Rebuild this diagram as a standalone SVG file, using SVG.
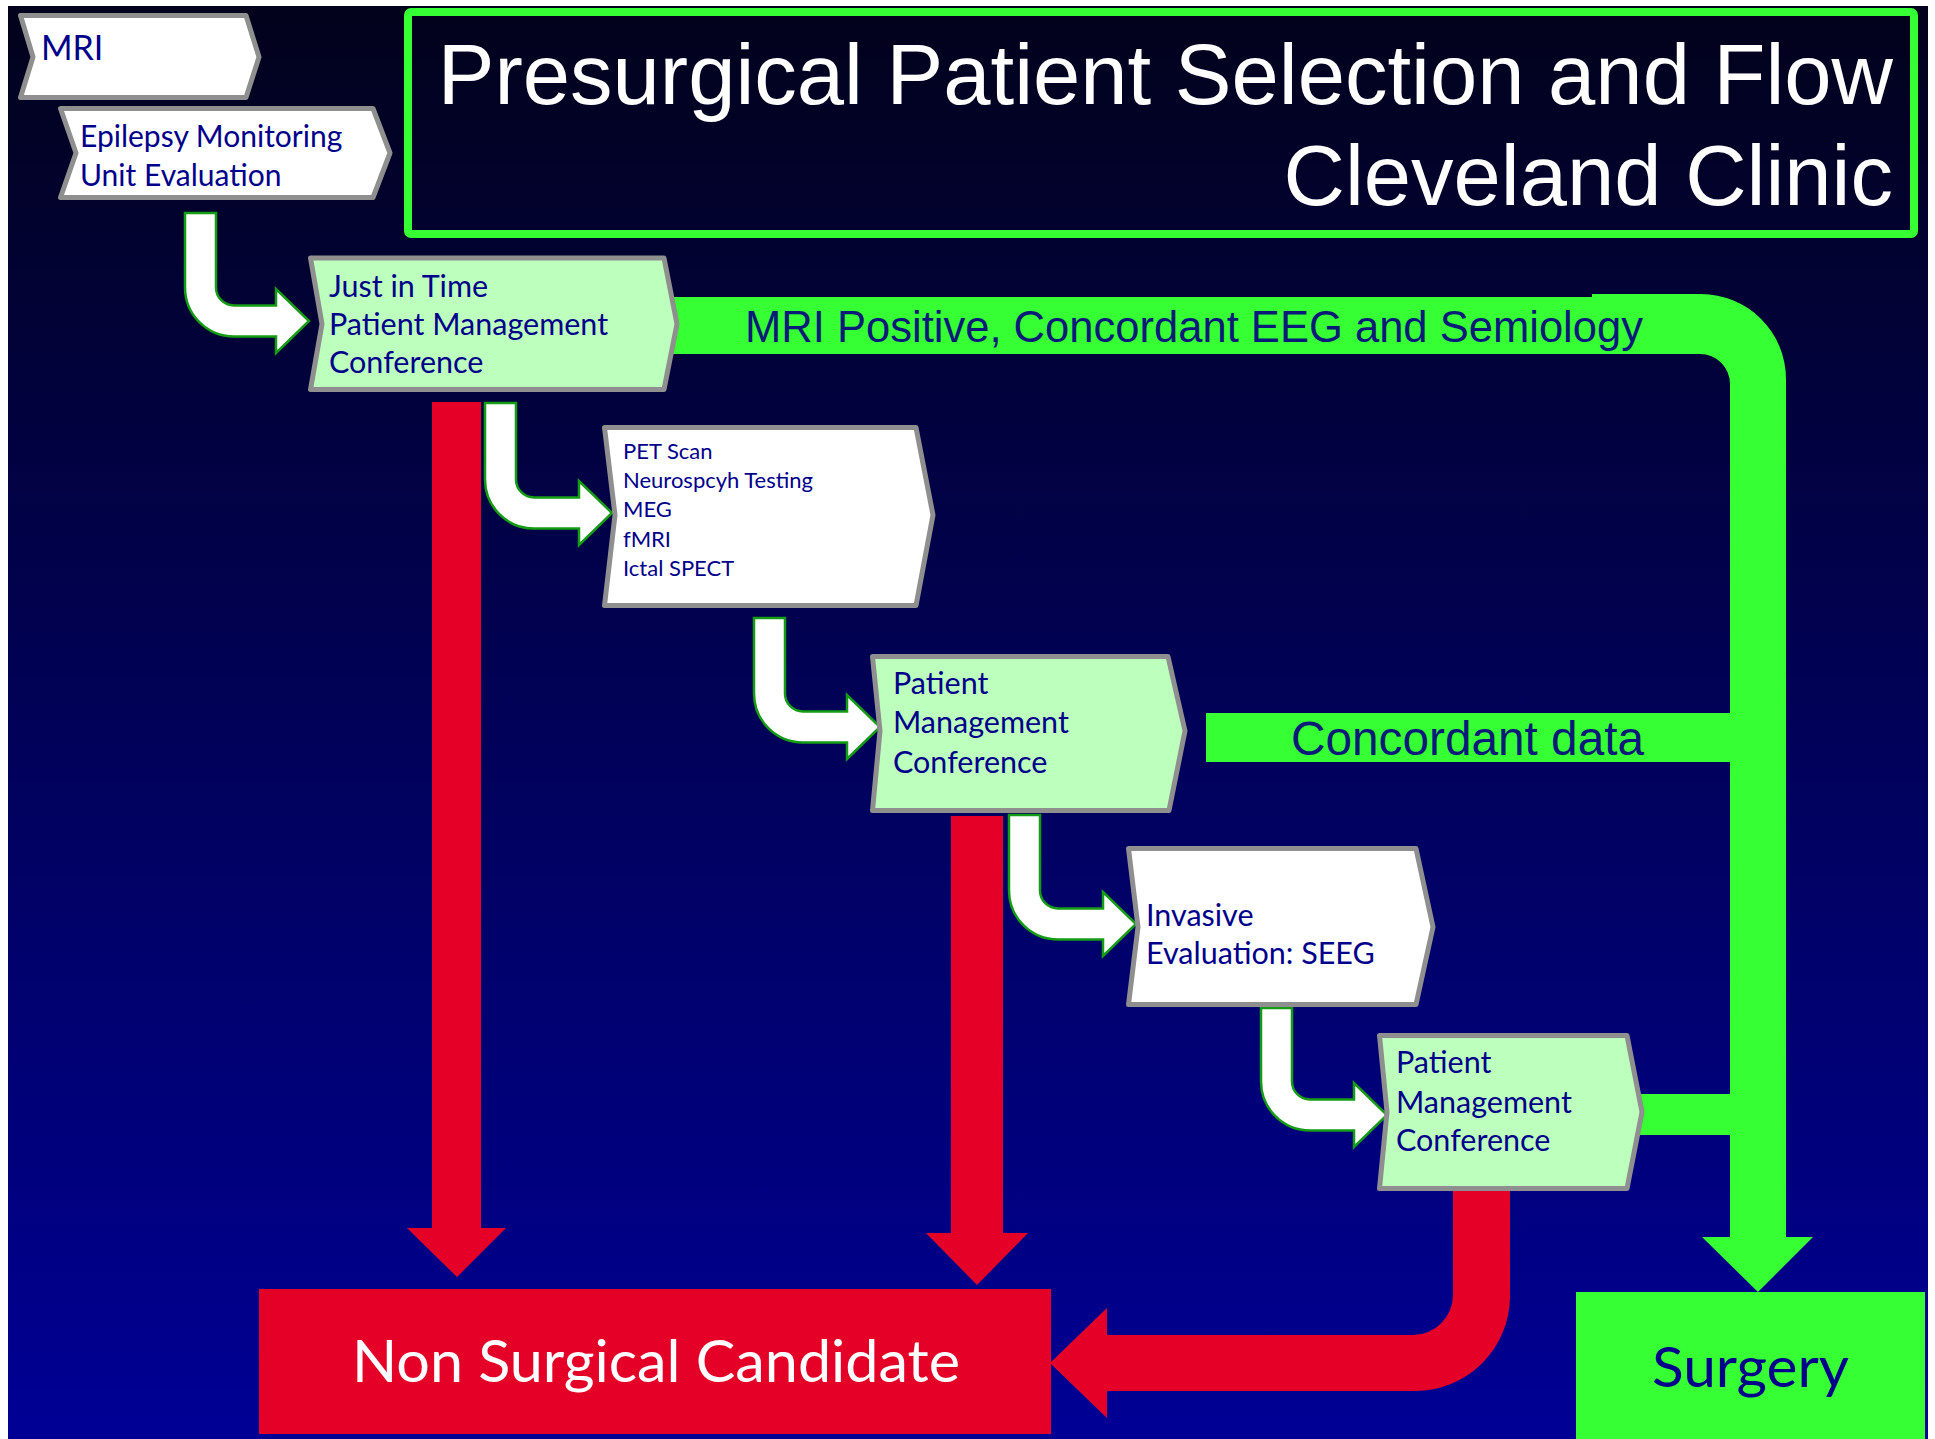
<svg xmlns="http://www.w3.org/2000/svg" width="1935" height="1439" viewBox="0 0 1935 1439">
<defs>
<linearGradient id="bg" x1="0" y1="0" x2="0" y2="1">
<stop offset="0" stop-color="#02021c"/>
<stop offset="1" stop-color="#000095"/>
</linearGradient>
<style>
.nw{fill:#ffffff;stroke:#8f8f8f;stroke-width:5;stroke-linejoin:round}
.ng{fill:#bdffbd;stroke:#8f8f8f;stroke-width:5;stroke-linejoin:round}
.t{font-family:Lato,"Open Sans","Noto Sans",sans-serif;fill:#00008b}
.ta{font-family:"Liberation Sans",Arial,sans-serif}
.wa{fill:#ffffff;stroke:#149c14;stroke-width:2.5}
.red{fill:#e50027}
.grn{fill:#36ff33}
</style>
</defs>
<rect x="0" y="0" width="1935" height="1439" fill="#ffffff"/>
<rect x="8" y="6" width="1920" height="1433" fill="url(#bg)"/>

<g id="title">
<rect x="408" y="12" width="1506" height="222" rx="3" fill="none" stroke="#36ff33" stroke-width="8"/>
<text class="ta" x="1893" y="104" font-size="85" fill="#ffffff" text-anchor="end">Presurgical Patient Selection and Flow</text>
<text class="ta" x="1893" y="205" font-size="85" fill="#ffffff" text-anchor="end">Cleveland Clinic</text>
</g>

<g id="connectors">
<path class="grn" d="M673,297 H1592 V294 H1701 A85,85 0 0 1 1786,379 V1237 H1813 L1758,1292 L1702,1237 H1730 V384 A30,30 0 0 0 1700,354 H673 Z"/>
<text class="ta" x="745" y="342" font-size="44" fill="#0a1a78" textLength="898" lengthAdjust="spacingAndGlyphs">MRI Positive, Concordant EEG and Semiology</text>
<rect class="grn" x="1206" y="713" width="526" height="49"/>
<text class="ta" x="1291" y="755" font-size="47.5" fill="#0a1a78" textLength="353" lengthAdjust="spacingAndGlyphs">Concordant data</text>
<rect class="grn" x="1638" y="1094" width="94" height="41"/>
<path class="red" d="M432,402 H481 V1228 H506 L457,1277 L407,1228 H432 Z"/>
<path class="red" d="M951,816 H1003 V1233 H1028 L977,1285 L926,1233 H951 Z"/>
<path class="red" d="M1453,1186 H1510 V1296 A95,95 0 0 1 1415,1391 H1107 V1418 L1050,1363 L1107,1308 V1335 H1413 A40,40 0 0 0 1453,1295 Z"/>
<path class="wa" d="M185,213 H216 V287.5 A18,18 0 0 0 234,305.5 H276 V289 L309,321 L276,353 V336.5 H234 A49,49 0 0 1 185,287.5 Z"/>
<path class="wa" d="M485,403 H516 V479.5 A18,18 0 0 0 534,497.5 H579 V481 L612,513 L579,545 V528.5 H534 A49,49 0 0 1 485,479.5 Z"/>
<path class="wa" d="M754,618 H785 V693.5 A18,18 0 0 0 803,711.5 H847 V695 L880,727 L847,759 V742.5 H803 A49,49 0 0 1 754,693.5 Z"/>
<path class="wa" d="M1009,815 H1040 V890.5 A18,18 0 0 0 1058,908.5 H1103 V892 L1136,924 L1103,956 V939.5 H1058 A49,49 0 0 1 1009,890.5 Z"/>
<path class="wa" d="M1261,1008 H1292 V1081.5 A18,18 0 0 0 1310,1099.5 H1354 V1083 L1387,1115 L1354,1147 V1130.5 H1310 A49,49 0 0 1 1261,1081.5 Z"/>
</g>

<g id="mri">
<path class="nw" d="M20.5,15.5 H246 L259,57 L246,97.5 H20.5 L33,57 Z"/>
<text class="t" x="41" y="60" font-size="34">MRI</text>
</g>
<g id="emu">
<path class="nw" d="M60.5,108.5 H373 L390,153 L373,197.5 H60.5 L76,153 Z"/>
<text class="t" x="80" y="147" font-size="30">Epilepsy Monitoring</text>
<text class="t" x="80" y="186" font-size="30">Unit Evaluation</text>
</g>
<g id="jit">
<path class="ng" d="M310.5,258 H664 L677,324 L664,389.5 H310.5 L322,324 Z"/>
<text class="t" x="329" y="297" font-size="30.5">Just in Time</text>
<text class="t" x="329" y="335" font-size="30.5">Patient Management</text>
<text class="t" x="329" y="373" font-size="30.5">Conference</text>
</g>
<g id="tests">
<path class="nw" d="M604.5,427.5 H916 L933,515 L916,605.5 H604.5 L615,515 Z"/>
<text class="t" x="623" y="459" font-size="22">PET Scan</text>
<text class="t" x="623" y="488" font-size="22">Neurospcyh Testing</text>
<text class="t" x="623" y="517" font-size="22">MEG</text>
<text class="t" x="623" y="547" font-size="22">fMRI</text>
<text class="t" x="623" y="576" font-size="22">Ictal SPECT</text>
</g>
<g id="pmc1">
<path class="ng" d="M872.5,656.5 H1168 L1185,731 L1169,810.5 H872.5 L880,731 Z"/>
<text class="t" x="893" y="694" font-size="30.5">Patient</text>
<text class="t" x="893" y="733" font-size="30.5">Management</text>
<text class="t" x="893" y="773" font-size="30.5">Conference</text>
</g>
<g id="invasive">
<path class="nw" d="M1128.5,848.5 H1416 L1433,927 L1416,1004.5 H1128.5 L1138,927 Z"/>
<text class="t" x="1146" y="926" font-size="30.5">Invasive</text>
<text class="t" x="1146" y="964" font-size="30.5">Evaluation: SEEG</text>
</g>
<g id="pmc2">
<path class="ng" d="M1379.5,1035.5 H1627 L1642,1112 L1627,1188.5 H1379.5 L1387,1112 Z"/>
<text class="t" x="1396" y="1073" font-size="30.5">Patient</text>
<text class="t" x="1396" y="1113" font-size="30.5">Management</text>
<text class="t" x="1396" y="1151" font-size="30.5">Conference</text>
</g>
<g id="nsc">
<rect class="red" x="259" y="1289" width="792" height="145"/>
<text class="t" x="352" y="1382" font-size="58" style="fill:#ffffff" textLength="608" lengthAdjust="spacingAndGlyphs">Non Surgical Candidate</text>
</g>
<g id="surgery">
<rect class="grn" x="1576" y="1292" width="349" height="147"/>
<text class="t" x="1652" y="1387" font-size="57" textLength="197" lengthAdjust="spacingAndGlyphs">Surgery</text>
</g>
</svg>
